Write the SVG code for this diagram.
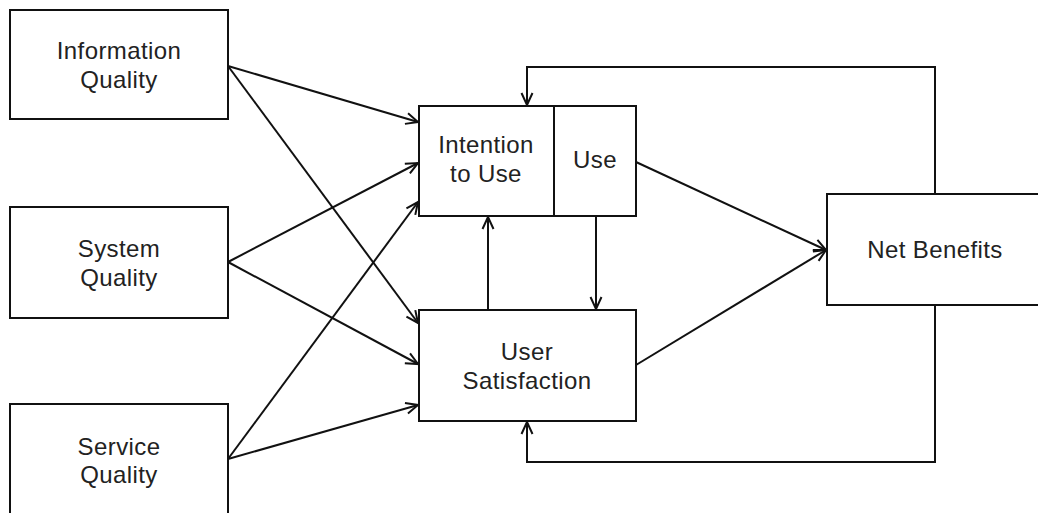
<svg xmlns="http://www.w3.org/2000/svg" width="1038" height="513" viewBox="0 0 1038 513">
<style>
.box{fill:#fff;stroke:#111;stroke-width:2}
.lbl{font-family:"Liberation Sans",Arial,sans-serif;font-size:24px;letter-spacing:0.4px;fill:#222;text-anchor:middle}
.ln{fill:none;stroke:#111;stroke-width:2}
</style>
<defs>
<marker id="arr" viewBox="0 0 14 14" refX="13" refY="7" markerWidth="14" markerHeight="14" markerUnits="userSpaceOnUse" orient="auto">
<path d="M1,1.5 L13,7 L1,12.5" fill="none" stroke="#111" stroke-width="2"/>
</marker>
</defs>
<rect width="1038" height="513" fill="#fff"/>
<g id="connectors">
<line class="ln" x1="228" y1="66" x2="418" y2="122" marker-end="url(#arr)"/>
<line class="ln" x1="228" y1="66" x2="418" y2="323" marker-end="url(#arr)"/>
<line class="ln" x1="228" y1="262" x2="418" y2="163" marker-end="url(#arr)"/>
<line class="ln" x1="228" y1="262" x2="418" y2="364" marker-end="url(#arr)"/>
<line class="ln" x1="228" y1="459" x2="418" y2="202" marker-end="url(#arr)"/>
<line class="ln" x1="228" y1="459" x2="418" y2="405" marker-end="url(#arr)"/>
<line class="ln" x1="636" y1="162" x2="826" y2="250" marker-end="url(#arr)"/>
<line class="ln" x1="636" y1="365" x2="826" y2="250" marker-end="url(#arr)"/>
<line class="ln" x1="488" y1="310" x2="488" y2="217" marker-end="url(#arr)"/>
<line class="ln" x1="596" y1="216" x2="596" y2="309" marker-end="url(#arr)"/>
<polyline class="ln" points="935,194 935,67 527,67 527,105" marker-end="url(#arr)"/>
<polyline class="ln" points="935,305 935,462 527,462 527,422" marker-end="url(#arr)"/>
</g>
<g id="information-quality">
<rect class="box" x="10" y="10" width="218" height="109"/>
<text class="lbl" x="119" y="59">Information</text>
<text class="lbl" x="119" y="88">Quality</text>
</g>
<g id="system-quality">
<rect class="box" x="10" y="207" width="218" height="111"/>
<text class="lbl" x="119" y="257">System</text>
<text class="lbl" x="119" y="286">Quality</text>
</g>
<g id="service-quality">
<rect class="box" x="10" y="404" width="218" height="130"/>
<text class="lbl" x="119" y="455">Service</text>
<text class="lbl" x="119" y="483">Quality</text>
</g>
<g id="intention-to-use">
<rect class="box" x="419" y="106" width="135" height="110"/>
<text class="lbl" x="486" y="153">Intention</text>
<text class="lbl" x="486" y="182">to Use</text>
</g>
<g id="use">
<rect class="box" x="554" y="106" width="82" height="110"/>
<text class="lbl" x="595" y="168">Use</text>
</g>
<g id="user-satisfaction">
<rect class="box" x="419" y="310" width="217" height="111"/>
<text class="lbl" x="527" y="360">User</text>
<text class="lbl" x="527" y="389">Satisfaction</text>
</g>
<g id="net-benefits">
<rect class="box" x="827" y="194" width="230" height="111"/>
<text class="lbl" x="935" y="258">Net Benefits</text>
</g>
</svg>
